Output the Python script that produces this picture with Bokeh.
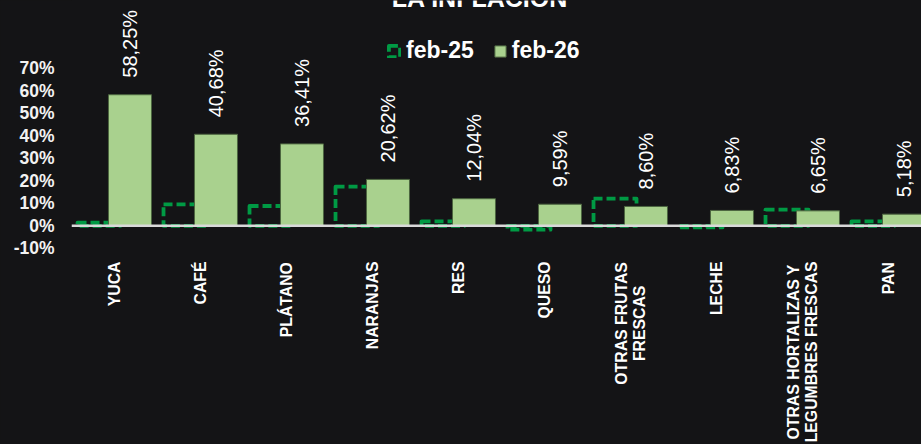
import math
from bokeh.plotting import figure
from bokeh.models import (Range1d, FixedTicker, PrintfTickFormatter, Span, Legend,
                          LegendItem, Label, ColumnDataSource)
from bokeh.core.properties import value
from bokeh.embed import file_html
from bokeh.resources import INLINE

# ---------------- data ----------------
categories = ["YUCA", "CAFÉ", "PLÁTANO", "NARANJAS", "RES", "QUESO",
              "OTRAS FRUTAS\nFRESCAS", "LECHE",
              "OTRAS HORTALIZAS Y\nLEGUMBRES FRESCAS", "PAN"]
feb25 = [1.4, 9.5, 8.8, 17.4, 2.0, -1.7, 12.1, -0.7, 7.2, 2.0]
feb26 = [58.25, 40.68, 36.41, 20.62, 12.04, 9.59, 8.60, 6.83, 6.65, 5.18]
series_names = ["feb-25", "feb-26"]
y_ticks = [-10, 0, 10, 20, 30, 40, 50, 60, 70]
title_text = "LA INFLACIÓN"

# ---------------- style ----------------
BG = "#141416"
GREEN_DASH = "#009a44"
GREEN_FILL = "#a9d18e"
GREEN_EDGE = "#4d6640"
FONT = "Liberation Sans"

W, H = 921, 444
LEFT = 71
px_per_cat = 86.0
px_per_pct = 2.25
zero_px = 225.3  # zero line, px from top of canvas

x0 = -0.5
x1 = x0 + (W - LEFT) / px_per_cat
y_top = zero_px / px_per_pct
y_bot = -(H - zero_px) / px_per_pct

p = figure(width=W, height=H, output_backend="svg", toolbar_location=None,
           x_range=Range1d(x0, x1), y_range=Range1d(y_bot, y_top),
           x_axis_location=None, min_border=0, min_border_left=LEFT,
           background_fill_color=BG, border_fill_color=BG, outline_line_color=None)
p.grid.visible = False

n = len(categories)
xs = list(range(n))
off = 0.18
bw = 0.5

src = ColumnDataSource(dict(
    x25=[i - off for i in xs], x26=[i + off for i in xs],
    feb25=feb25, feb26=feb26,
    lab=[("%.2f" % v).replace(".", ",") + "%" for v in feb26],
))

r1 = p.vbar(x="x25", top="feb25", bottom=0, width=bw, source=src,
            fill_color=None, line_color=GREEN_DASH, line_width=3.8,
            line_dash="9 4", line_join="round")
r2 = p.vbar(x="x26", top="feb26", bottom=0, width=bw, source=src,
            fill_color=GREEN_FILL, line_color=GREEN_EDGE, line_width=1)

p.add_layout(Span(location=0, dimension="width", line_color="#d9d9d9", line_width=2.5))

# value labels
p.text(x="x26", y="feb26", text="lab", source=src, angle=math.pi / 2,
       text_align="left", text_baseline="middle", y_offset=-17,
       text_color="white", text_font=value(FONT), text_font_size="20px")

# category labels (rotated, centred lines)
AW = {"A": .722, "B": .722, "C": .722, "D": .722, "E": .667, "F": .611, "G": .778,
      "H": .722, "I": .278, "J": .556, "K": .722, "L": .611, "M": .833, "N": .722,
      "O": .778, "P": .667, "Q": .778, "R": .722, "S": .667, "T": .611, "U": .722,
      "V": .667, "W": .944, "X": .667, "Y": .667, "Z": .611, " ": .278, "Á": .722,
      "É": .667}
CAT_FS = 15.8

def est_w(s):
    return sum(AW.get(c, .7) for c in s) * CAT_FS

cx, cy, ct, cxo, cyo = [], [], [], [], []
label_y = -(261 - zero_px) / px_per_pct
for i, name in enumerate(categories):
    lines = name.split("\n")
    block = max(est_w(l) for l in lines)
    for j, l in enumerate(lines):
        cx.append(i)
        cy.append(label_y)
        ct.append(l)
        cxo.append((j - (len(lines) - 1) / 2) * 18.5)
        cyo.append(block / 2)
csrc = ColumnDataSource(dict(x=cx, y=cy, t=ct, xo=cxo, yo=cyo))
p.text(x="x", y="y", text="t", x_offset="xo", y_offset="yo", source=csrc,
       angle=math.pi / 2, text_align="center", text_baseline="middle",
       text_color="white", text_font=value(FONT), text_font_size=f"{CAT_FS}px",
       text_font_style="bold")

# y axis
ax = p.yaxis[0]
ax.ticker = FixedTicker(ticks=y_ticks)
ax.formatter = PrintfTickFormatter(format="%d%%")
ax.axis_line_color = None
ax.major_tick_line_color = None
ax.minor_tick_line_color = None
ax.major_tick_out = 0
ax.major_label_standoff = 17
ax.major_label_text_font = FONT
ax.major_label_text_font_size = "17.5px"
ax.major_label_text_font_style = "bold"
ax.major_label_text_color = "#f2f2f2"

# legend
legend = Legend(items=[LegendItem(label=series_names[0], renderers=[r1]),
                       LegendItem(label=series_names[1], renderers=[r2])],
                orientation="horizontal", location=(316, 380),
                padding=0, margin=0, spacing=19, label_standoff=5,
                glyph_width=14, glyph_height=14,
                border_line_color=None, background_fill_alpha=0,
                label_text_font=FONT, label_text_font_size="23px",
                label_text_font_style="bold", label_text_color="white")
p.add_layout(legend)

# title (cut at the top, as in the reference)
p.add_layout(Label(x=x0 + (479.5 - LEFT) / px_per_cat, y=(zero_px + 3) / px_per_pct,
                   text=title_text, text_align="center", text_baseline="alphabetic",
                   text_color="white", text_font=FONT, text_font_size="25px",
                   text_font_style="bold"))

html = file_html(p, INLINE).replace("<body>", '<body style="background-color:%s;">' % BG)
open("out.html", "w").write(html)
